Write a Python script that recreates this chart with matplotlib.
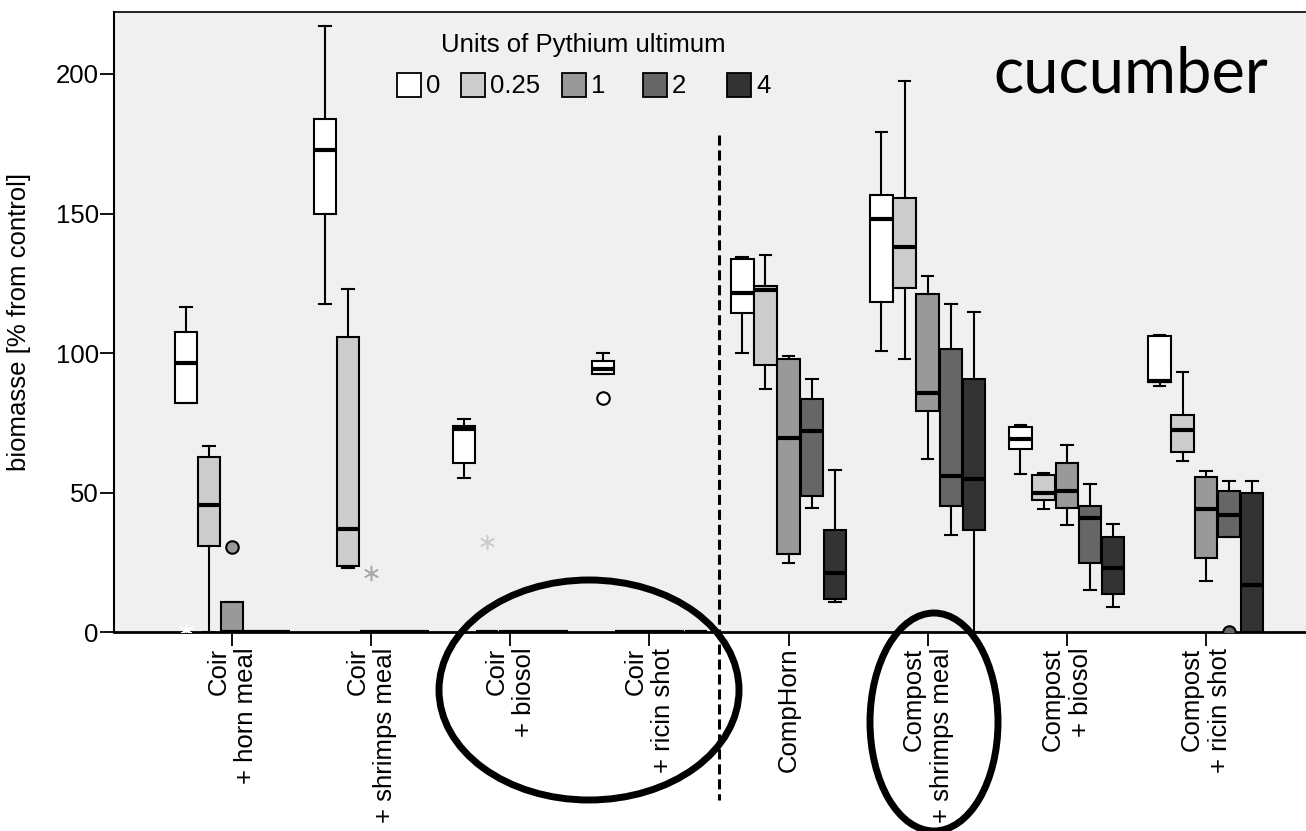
########################################################
###biomass of cucumber per substrate and Pythium dose
###boxplot in SPSS style
########################################################

import numpy as np
import matplotlib
matplotlib.use('Agg')
from matplotlib import pyplot as plt
from matplotlib.patches import Ellipse, Rectangle

plt.rcParams['font.family']=['Liberation Sans','DejaVu Sans']

categories=['Coir\n+ horn meal','Coir\n+ shrimps meal','Coir\n+ biosol','Coir\n+ ricin shot',
            'CompHorn','Compost\n+ shrimps meal','Compost\n+ biosol','Compost\n+ ricin shot']
levels=['0','0.25','1','2','4']
colorID=['#ffffff','#cccccc','#999999','#666666','#333333']

###rows = units of Pythium (0, 0.25, 1, 2, 4), columns = substrate
q1=[[82.0,149.8,60.7,92.5,114.2,118.4,65.7,89.5],
    [31.0,23.9,0,0,95.6,123.2,47.4,64.7],
    [0,0,0,0,27.9,79.4,44.4,26.6],
    [0,0,0,0,48.7,45.1,24.9,34.1],
    [0,0,0,0,12.1,36.6,13.6,0]]
med=[[96.3,172.7,72.8,94.2,121.6,148.2,69.3,89.9],
     [45.5,36.9,0,0,122.6,138.1,49.9,72.3],
     [0,0,0,0,69.5,85.8,50.5,44.1],
     [0,0,0,0,72.2,55.9,40.8,42.1],
     [0,0,0,0,21.4,54.9,23.2,16.8]]
q3=[[107.7,183.8,74.0,97.3,133.6,156.6,73.4,106.0],
    [62.7,105.7,0,0,124.0,155.5,56.3,77.9],
    [10.7,0,0,0,97.9,121.1,60.6,55.7],
    [0,0,0,0,83.6,101.3,45.1,50.5],
    [0,0,0,0,36.6,90.8,34.0,49.8]]
whislo=[[82.0,117.5,55.2,92.5,99.9,100.9,56.7,88.4],
        [0,23.1,0,0,87.3,97.9,44.1,61.2],
        [0,0,0,0,24.7,62.2,38.3,18.3],
        [0,0,0,0,44.4,34.9,15.1,34.1],
        [0,0,0,0,10.9,0,9.0,0]]
whishi=[[116.6,217.2,76.4,100.2,134.3,179.1,74.4,106.6],
        [66.7,123.1,0,0,135.0,197.5,57.1,93.2],
        [10.7,0,0,0,98.9,127.7,67.0,57.8],
        [0,0,0,0,90.7,117.5,53.0,54.3],
        [0,0,0,0,58.2,114.9,38.7,54.3]]

###outliers (o) and extreme values (*), level index as in 'levels'
out_level=[0,0,2,2,1,3]
out_cat=[0,3,0,1,2,7]
out_value=[0.8,84.1,30.7,21.3,32.5,0.0]
out_marker=['*','o','o','*','*','o']

W=1306
H=831
fig=plt.figure(figsize=(W/100,H/100),dpi=100)
ax=fig.add_axes([114/W,1-632.3/H,(W-114)/W,(632.3-11.7)/H])
ax.set_facecolor('#f0f0f0')

w=0.1665
x=np.arange(len(categories))
for lv in range(len(levels)):
	stats=[]
	for c in range(len(categories)):
		stats.append({'q1':q1[lv][c],'med':med[lv][c],'q3':q3[lv][c],
		              'whislo':whislo[lv][c],'whishi':whishi[lv][c],'fliers':[]})
	ax.bxp(stats,positions=x+(lv-2)*w,widths=w*0.97,patch_artist=True,showfliers=False,
	       manage_ticks=False,capwidths=w*0.5,
	       boxprops=dict(facecolor=colorID[lv],edgecolor='black',linewidth=1.5),
	       medianprops=dict(color='black',linewidth=3,solid_capstyle='butt'),
	       whiskerprops=dict(color='black',linewidth=1.5),
	       capprops=dict(color='black',linewidth=1.5))

for i in range(len(out_value)):
	lv=out_level[i]
	px=out_cat[i]+(lv-2)*w
	if out_marker[i]=='o':
		ax.plot(px,out_value[i],'o',ms=9,mfc=colorID[lv],mec='black',mew=1.5,zorder=5)
	else:
		c=colorID[lv]
		if lv==2:
			c='#a8a8a8'
		ax.plot(px,out_value[i],marker=(6,2,0),ms=11,color=c,mec=c,mew=1.1,ls='none',zorder=5)

###dashed separator between coir and compost
ax.plot([3.5,3.5],[178,-60],color='black',lw=2.2,ls=(0,(3.3,1.6)),clip_on=False,zorder=6)

ax.set_xlim(-0.85,7.72)
ax.set_ylim(0,222.3)
ax.set_yticks([0,50,100,150,200])
ax.set_xticks(x)
ax.set_xticklabels(categories,rotation=90,ha='center',va='top',multialignment='right',fontsize=18.5)
ax.tick_params(axis='y',labelsize=18.5,length=10,width=1.3,pad=1)
ax.tick_params(axis='x',length=10,width=1.3,pad=1)
ax.set_ylabel('biomasse [% from control]',fontsize=18.5,labelpad=18)
ax.spines['right'].set_visible(False)
ax.spines['top'].set_linewidth(1.2)
ax.spines['left'].set_linewidth(1.5)
ax.spines['bottom'].set_linewidth(2)

###legend drawn like the SPSS one
fig.text(583/W,1-45/H,'Units of Pythium ultimum',ha='center',va='center',fontsize=18.5)
leg_x=[397,461,562,643,727]
for lv in range(len(levels)):
	fig.add_artist(Rectangle((leg_x[lv]/W,1-97/H),24/W,24/H,transform=fig.transFigure,
	                         facecolor=colorID[lv],edgecolor='black',lw=1.3))
	fig.text((leg_x[lv]+29)/W,1-86/H,levels[lv],ha='left',va='center',fontsize=18.5)

fig.text(993/W,1-92.7/H,'cucumber',ha='left',va='baseline',fontsize=45.5,family=['Lato','DejaVu Sans'])

###hand drawn circles of the publication
fig.add_artist(Ellipse((589/W,1-690/H),300/W,220/H,transform=fig.transFigure,fill=False,lw=5,ec='black'))
fig.add_artist(Ellipse((934/W,1-722/H),128/W,218/H,transform=fig.transFigure,fill=False,lw=5,ec='black'))

plt.savefig('out.png',dpi=100)
plt.close()
